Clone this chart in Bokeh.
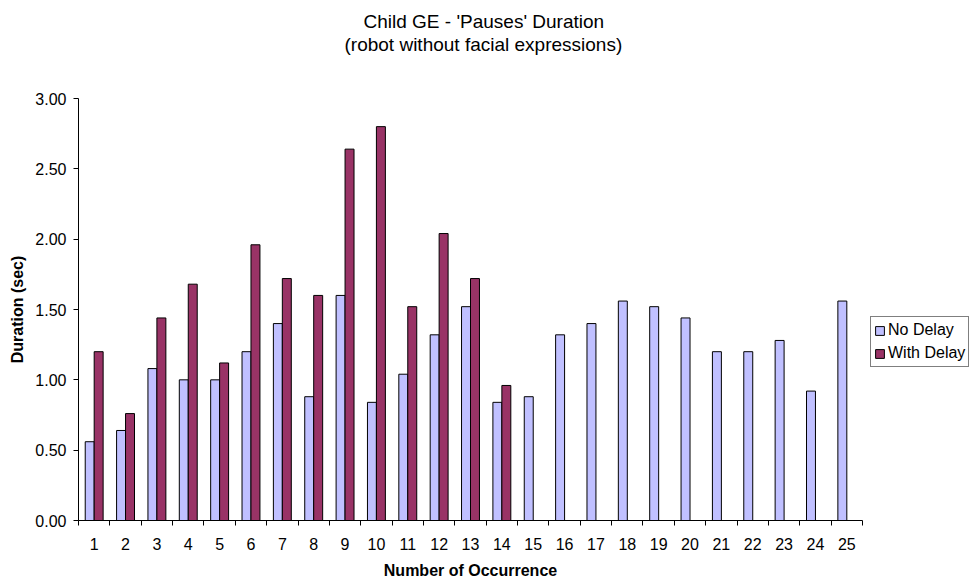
from bokeh.plotting import figure
from bokeh.models import (Range1d, FixedTicker, NumeralTickFormatter, Legend,
                          LegendItem, Title, ColumnDataSource)
from bokeh.embed import file_html
from bokeh.resources import INLINE

# ---- data ----
occurrences = list(range(1, 26))
no_delay = [0.56, 0.64, 1.08, 1.00, 1.00, 1.20, 1.40, 0.88, 1.60, 0.84, 1.04, 1.32, 1.52,
            0.84, 0.88, 1.32, 1.40, 1.56, 1.52, 1.44, 1.20, 1.20, 1.28, 0.92, 1.56]
with_delay = [1.20, 0.76, 1.44, 1.68, 1.12, 1.96, 1.72, 1.60, 2.64, 2.80, 1.52, 2.04, 1.72, 0.96]
y_ticks = [0.0, 0.5, 1.0, 1.5, 2.0, 2.5, 3.0]
series_names = ["No Delay", "With Delay"]
series_colors = ["#C0C0FF", "#993366"]
title_lines = ["Child GE - 'Pauses' Duration", "(robot without facial expressions)"]
x_label = "Number of Occurrence"
y_label = "Duration (sec)"

FONT = "Liberation Sans"
bar_w = 1 / 3.5

p = figure(frame_width=784, frame_height=422, output_backend="svg", toolbar_location=None,
           x_range=Range1d(occurrences[0] - 0.5, occurrences[-1] + 0.5),
           y_range=Range1d(y_ticks[0], y_ticks[-1]),
           min_border_left=78, min_border_right=114, min_border_top=98, min_border_bottom=63)
p.outline_line_color = None
p.xgrid.grid_line_color = None
p.ygrid.grid_line_color = None
p.background_fill_color = "white"
p.border_fill_color = "white"

src_nd = ColumnDataSource(dict(x=[o - bar_w / 2 for o in occurrences], top=no_delay))
src_wd = ColumnDataSource(dict(x=[o + bar_w / 2 for o in occurrences[:len(with_delay)]], top=with_delay))

r_nd = p.vbar(x="x", top="top", bottom=0, width=bar_w, source=src_nd,
              fill_color=series_colors[0], line_color="black", line_width=1)
r_wd = p.vbar(x="x", top="top", bottom=0, width=bar_w, source=src_wd,
              fill_color=series_colors[1], line_color="black", line_width=1)

# x axis: labels at centers, ticks at category boundaries
boundaries = [o - 0.5 for o in occurrences] + [occurrences[-1] + 0.5]
p.xaxis.ticker = FixedTicker(ticks=occurrences, minor_ticks=boundaries)
p.xaxis.major_tick_out = 0
p.xaxis.major_tick_in = 0
p.xaxis.minor_tick_out = 5
p.xaxis.minor_tick_in = 0
p.xaxis.minor_tick_line_color = "black"
p.xaxis.major_label_standoff = 12
p.xaxis.axis_label = x_label
p.xaxis.axis_label_standoff = 9

p.yaxis.ticker = FixedTicker(ticks=y_ticks)
p.yaxis.formatter = NumeralTickFormatter(format="0.00")
p.yaxis.major_tick_out = 5
p.yaxis.major_tick_in = 0
p.yaxis.minor_tick_out = 0
p.yaxis.minor_tick_in = 0
p.yaxis.major_label_standoff = 7
p.yaxis.axis_label = y_label
p.yaxis.axis_label_standoff = 6

for ax in (p.xaxis, p.yaxis):
    ax.axis_line_color = "black"
    ax.major_tick_line_color = "black"
    ax.major_label_text_font = FONT
    ax.major_label_text_font_size = "16px"
    ax.major_label_text_color = "black"
    ax.axis_label_text_font = FONT
    ax.axis_label_text_font_size = "16px"
    ax.axis_label_text_font_style = "bold"
    ax.axis_label_text_color = "black"

# title: two lines stacked above the plot (later added = further from frame)
p.add_layout(Title(text="\u00a0", standoff=0, text_font=FONT, text_font_size="38px"), "above")
p.add_layout(Title(text=title_lines[1], align="left", offset=266, standoff=0,
                   text_font=FONT, text_font_size="19px", text_font_style="normal",
                   text_color="black", text_line_height=0.9), "above")
p.add_layout(Title(text=title_lines[0], align="left", offset=285, standoff=0,
                   text_font=FONT, text_font_size="19px", text_font_style="normal",
                   text_color="black", text_line_height=0.9), "above")

legend = Legend(items=[LegendItem(label=series_names[0], renderers=[r_nd]),
                       LegendItem(label=series_names[1], renderers=[r_wd])],
                location=(8, 153), orientation="vertical",
                glyph_width=11, glyph_height=11, label_standoff=3, padding=3, spacing=3,
                margin=0, label_height=20, label_text_font=FONT, label_text_font_size="16px",
                label_text_color="black", border_line_color="black", border_line_width=1,
                background_fill_color="white", background_fill_alpha=1)
p.add_layout(legend, "right")

open("out.html", "w").write(file_html(p, INLINE))
